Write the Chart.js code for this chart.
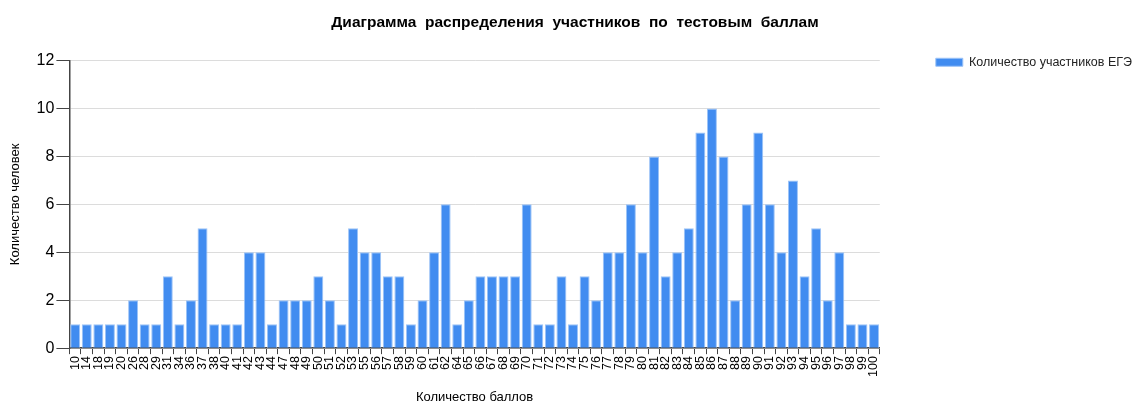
<!DOCTYPE html>
<html>
<head>
<meta charset="utf-8">
<script src="https://cdn.jsdelivr.net/npm/chart.js@4"></script>
<style>
  html, body { margin: 0; padding: 0; background: #fff; }
  #wrap { width: 1148px; height: 404px; }
</style>
</head>
<body>
<div id="wrap"><canvas id="scoreChart" width="1148" height="404"></canvas></div>
<script>
// баллы и количество участников
const scores = ['10', '14', '18', '19', '20', '26', '28', '29', '31', '34', '36', '37', '38', '40', '41', '42', '43', '44',
  '47', '48', '49', '50', '51', '52', '53', '55', '56', '57', '58', '59', '60', '61', '62', '64', '65', '66', '67', '68',
  '69', '70', '71', '72', '73', '74', '75', '76', '77', '78', '79', '80', '81', '82', '83', '84', '85', '86', '87', '88',
  '89', '90', '91', '92', '93', '94', '95', '96', '97', '98', '99', '100'];
const participants = [1, 1, 1, 1, 1, 2, 1, 1, 3, 1, 2, 5, 1, 1, 1, 4, 4, 1,
  2, 2, 2, 3, 2, 1, 5, 4, 4, 3, 3, 1, 2, 4, 6, 1, 2, 3, 3, 3,
  3, 6, 1, 1, 3, 1, 3, 2, 4, 4, 6, 4, 8, 3, 4, 5, 9, 10, 8, 2,
  6, 9, 6, 4, 7, 3, 5, 2, 4, 1, 1, 1];
const yTicks = [0, 2, 4, 6, 8, 10, 12];

const font = 'Arial, "Liberation Sans", sans-serif';

const ctx = document.getElementById('scoreChart').getContext('2d');
const scoreChart = new Chart(ctx, {
  type: 'bar',
  data: {
    labels: scores,
    datasets: [{
      label: 'Количество участников ЕГЭ',
      data: participants,
      backgroundColor: '#418CF0',
      borderColor: '#9cc3f7',
      borderWidth: 1,
      borderSkipped: 'bottom',
      categoryPercentage: 1.0,
      barPercentage: 0.86
    }]
  },
  options: {
    responsive: false,
    animation: false,
    layout: { padding: { left: 8, right: 6, top: 0, bottom: 0 } },
    plugins: {
      title: {
        display: true,
        text: 'Диаграмма  распределения  участников  по  тестовым  баллам',
        color: '#000',
        font: { family: font, size: 15.5, weight: 'bold' },
        padding: { top: 13, bottom: 29 }
      },
      legend: {
        position: 'right',
        align: 'start',
        labels: {
          color: '#222',
          font: { family: font, size: 12.5 },
          boxWidth: 27,
          boxHeight: 8,
          padding: 56
        }
      },
      tooltip: { enabled: false }
    },
    scales: {
      x: {
        grid: { display: true, drawOnChartArea: false, tickLength: 6, tickColor: '#444', offset: true },
        border: { color: '#444', width: 1.5 },
        ticks: {
          color: '#000',
          font: { family: font, size: 12.5 },
          minRotation: 90,
          maxRotation: 90,
          autoSkip: false,
          padding: 2
        },
        title: {
          display: true,
          text: 'Количество баллов',
          color: '#000',
          font: { family: font, size: 13, lineHeight: 1.0 },
          padding: { top: 12, bottom: 0 }
        }
      },
      y: {
        min: 0,
        max: 12,
        afterBuildTicks: axis => { axis.ticks = yTicks.map(v => ({ value: v })); },
        grid: { color: '#dcdcdc', tickLength: 13, tickColor: '#444' },
        border: { color: '#444', width: 1.5 },
        ticks: {
          color: '#000',
          font: { family: font, size: 16 },
          padding: 2
        },
        title: {
          display: true,
          text: 'Количество человек',
          color: '#000',
          font: { family: font, size: 13 },
          padding: { top: 0, bottom: 11 }
        }
      }
    }
  }
});
</script>
</body>
</html>
